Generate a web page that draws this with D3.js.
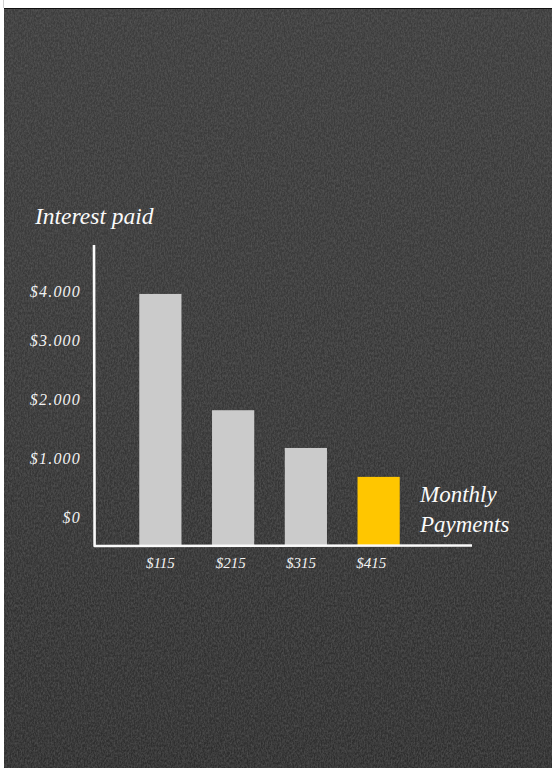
<!DOCTYPE html>
<html><head><meta charset="utf-8">
<script src="https://cdn.jsdelivr.net/npm/d3@7"></script>
<style>html,body{margin:0;padding:0;background:#fff;overflow:hidden}svg{display:block}</style>
</head><body>
<script>
const categories = ["$115", "$215", "$315", "$415"];
const interestPaid = [3940, 1810, 1170, 680];
const highlight = [false, false, false, true];
const tickValues = [0, 1000, 2000, 3000, 4000];
const tickLabels = ["$0", "$1.000", "$2.000", "$3.000", "$4.000"];
const yTitle = "Interest paid";
const xTitle = ["Monthly", "Payments"];

const W = 552, H = 768;
const svg = d3.select("body").append("svg").attr("width", W).attr("height", H);
const defs = svg.append("defs");
const f = defs.append("filter").attr("id", "chalk").attr("x", 0).attr("y", 0).attr("width", 1).attr("height", 1);
f.append("feTurbulence").attr("type", "fractalNoise").attr("baseFrequency", "0.7 0.4").attr("numOctaves", 3).attr("seed", 4).attr("result", "n");
f.append("feColorMatrix").attr("in", "n").attr("type", "matrix")
  .attr("values", "0 0 0 0 0.5  0 0 0 0 0.5  0 0 0 0 0.5  0.18 0 0 0 -0.06").attr("result", "n2");
f.append("feComposite").attr("in", "n2").attr("in2", "SourceGraphic").attr("operator", "atop");
const g = defs.append("linearGradient").attr("id", "bg").attr("x1", 0).attr("y1", 0).attr("x2", 0).attr("y2", 1);
g.append("stop").attr("offset", "0%").attr("stop-color", "#3d3d3d");
g.append("stop").attr("offset", "45%").attr("stop-color", "#393939");
g.append("stop").attr("offset", "100%").attr("stop-color", "#2f2f2f");

svg.append("line").attr("x1", 3.5).attr("x2", 3.5).attr("y1", 0).attr("y2", 8).attr("stroke", "#d0d0d0").attr("stroke-width", 1);
svg.append("rect").attr("x", 4).attr("y", 8).attr("width", W - 4).attr("height", H - 8)
  .attr("fill", "url(#bg)").attr("filter", "url(#chalk)");
svg.append("line").attr("x1", 4).attr("x2", W).attr("y1", 8.5).attr("y2", 8.5).attr("stroke", "#111").attr("stroke-width", 1);

const font = "'Liberation Serif', serif";
const baseY = 546;
const x = d3.scaleBand().domain(categories).range([124, 415]).paddingInner(0.42).paddingOuter(0.21);
const y = d3.scaleLinear().domain([0, 3000, 4000]).range([517, 340, 291]);

// bars
svg.append("g").selectAll("rect").data(categories).join("rect")
  .attr("x", d => x(d))
  .attr("y", (d, i) => y(interestPaid[i]))
  .attr("width", x.bandwidth())
  .attr("height", (d, i) => baseY - y(interestPaid[i]))
  .attr("fill", (d, i) => highlight[i] ? "#ffc600" : "#cbcbcb");

// y axis
const yAxis = d3.axisLeft(y).tickValues(tickValues).tickFormat((d, i) => tickLabels[i]).tickSize(0).tickPadding(0);
const ya = svg.append("g").attr("transform", "translate(81,0)").call(yAxis);
ya.select(".domain").remove();
ya.selectAll("text").attr("fill", "#f2f2f2").attr("font-family", font).attr("font-style", "italic")
  .attr("font-size", 16).attr("letter-spacing", 1.2).attr("dy", "0.35em");

// x axis
const xAxis = d3.axisBottom(x).tickSize(0).tickPadding(0);
const xa = svg.append("g").attr("transform", `translate(0,${baseY})`).call(xAxis);
xa.select(".domain").remove();
xa.selectAll("text").attr("fill", "#f2f2f2").attr("font-family", font).attr("font-style", "italic")
  .attr("font-size", 15).attr("dx", (d, i) => -i * 2.5).attr("dy", "1.45em");

// axis lines
svg.append("path").attr("d", `M94,245 L94.6,${baseY} L472,${baseY - 0.5}`)
  .attr("fill", "none").attr("stroke", "#fafafa").attr("stroke-width", 2.6).attr("stroke-linejoin", "round");

// titles
svg.append("text").attr("x", 35).attr("y", 224).text(yTitle)
  .attr("fill", "#fafafa").attr("font-family", font).attr("font-style", "italic").attr("font-size", 23.5);
svg.append("g").selectAll("text").data(xTitle).join("text")
  .attr("x", 420).attr("y", (d, i) => 502 + i * 30).text(d => d)
  .attr("fill", "#fafafa").attr("font-family", font).attr("font-style", "italic").attr("font-size", 23);
</script>
</body></html>
